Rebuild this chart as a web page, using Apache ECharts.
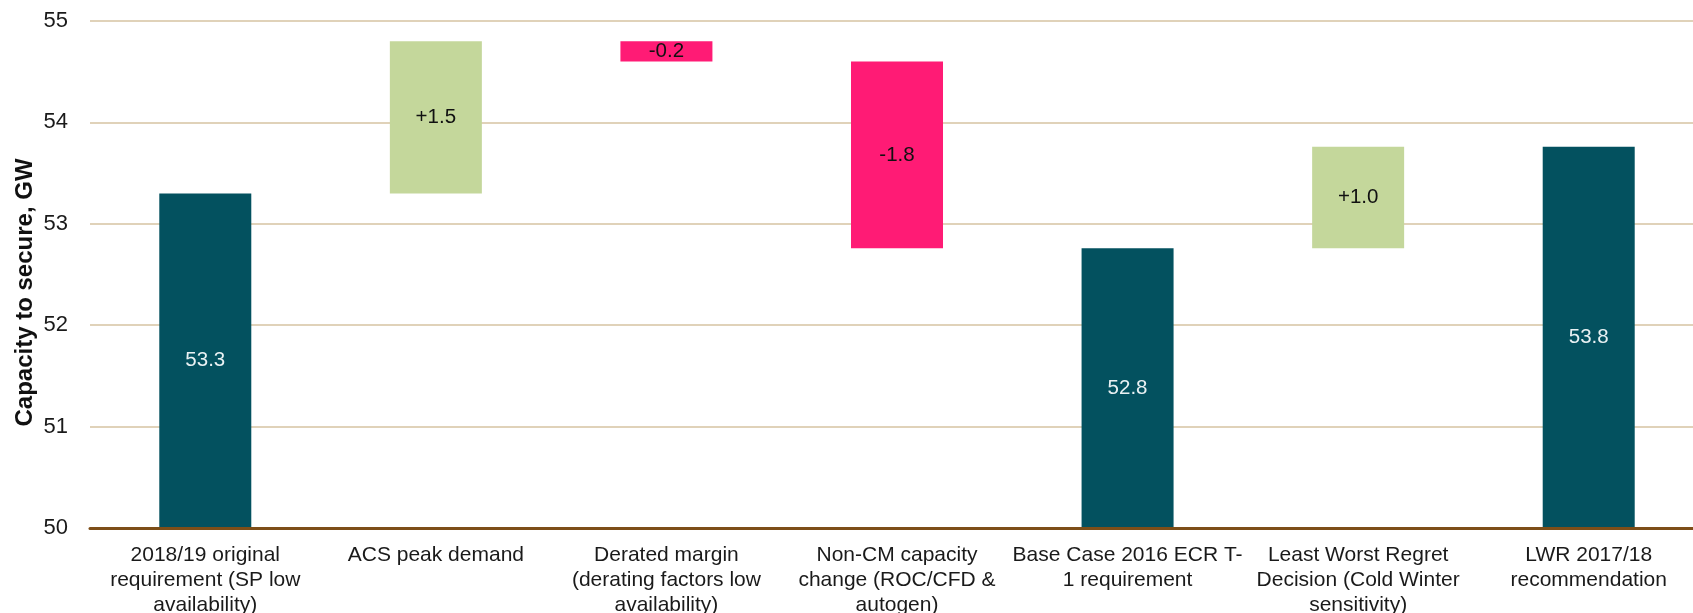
<!DOCTYPE html>
<html>
<head>
<meta charset="utf-8">
<script src="https://cdn.jsdelivr.net/npm/echarts@6/dist/echarts.min.js"></script>
<style>
  html, body { margin: 0; padding: 0; background: #ffffff; }
  #chart { width: 1693px; height: 613px; }
</style>
</head>
<body>
<div id="chart"></div>
<script>
// ---- Data ----
const categories = [
  '2018/19 original\nrequirement (SP low\navailability)',
  'ACS peak demand',
  'Derated margin\n(derating factors low\navailability)',
  'Non-CM capacity\nchange (ROC/CFD &\nautogen)',
  'Base Case 2016 ECR T-\n1 requirement',
  'Least Worst Regret\nDecision (Cold Winter\nsensitivity)',
  'LWR 2017/18\nrecommendation'
];
// 'total' bars start at the axis; 'delta' bars float on the running total
const kinds = ['total', 'delta', 'delta', 'delta', 'total', 'delta', 'total'];
const values = [53.3, 1.5, -0.2, -1.84, 52.76, 1.0, 53.76];
const yTicks = [50, 51, 52, 53, 54, 55];
const axisTitle = 'Capacity to secure, GW';

// ---- Colours ----
const COLOR_TOTAL = '#03515f';
const COLOR_UP = '#c4d79b';
const COLOR_DOWN = '#ff1b75';

// Build waterfall stacks
const baseData = [];
const barData = [];
const labelText = [];
let running = 0;
for (let i = 0; i < values.length; i++) {
  const v = values[i];
  if (kinds[i] === 'total') {
    running = v;
    baseData.push(0);
    barData.push({ value: v, itemStyle: { color: COLOR_TOTAL }, label: { color: '#e9f1f3' } });
    labelText.push(v.toFixed(1));
  } else {
    const start = running;
    const end = running + v;
    baseData.push(Math.min(start, end));
    barData.push({ value: Math.abs(v), itemStyle: { color: v >= 0 ? COLOR_UP : COLOR_DOWN }, label: { color: '#111111' } });
    labelText.push((v >= 0 ? '+' : '-') + Math.abs(v).toFixed(1));
    running = end;
  }
}

const chart = echarts.init(document.getElementById('chart'), null, { renderer: 'canvas' });
chart.setOption({
  animation: false,
  backgroundColor: '#ffffff',
  textStyle: { fontFamily: 'Liberation Sans, Arial, sans-serif' },
  grid: { left: 90, right: -11, top: 21, bottom: 85, containLabel: false, outerBoundsMode: 'none' },
  xAxis: {
    type: 'category',
    data: categories,
    axisLine: { show: true, lineStyle: { color: '#7d4e18', width: 3 } },
    axisTick: { show: false },
    axisLabel: {
      interval: 0,
      margin: 15,
      fontSize: 21,
      lineHeight: 25,
      color: '#1a1a1a',
      align: 'center'
    },
    z: 10
  },
  yAxis: {
    type: 'value',
    min: yTicks[0],
    max: yTicks[yTicks.length - 1],
    interval: 1,
    name: axisTitle,
    nameLocation: 'middle',
    nameRotate: 90,
    nameGap: 53,
    nameMoveOverlap: false,
    nameTextStyle: { fontSize: 24, fontWeight: 'bold', color: '#111111', padding: [0, 36, 0, 0] },
    axisLine: { show: false },
    axisTick: { show: false },
    axisLabel: { fontSize: 22, color: '#1a1a1a', margin: 22 },
    splitLine: { show: true, lineStyle: { color: '#d6c3a2', width: 1.5 } }
  },
  series: [
    {
      name: 'base',
      type: 'bar',
      stack: 'waterfall',
      barWidth: 92,
      silent: true,
      itemStyle: { color: 'transparent' },
      data: baseData
    },
    {
      name: 'value',
      type: 'bar',
      stack: 'waterfall',
      barWidth: 92,
      data: barData,
      label: {
        show: true,
        position: 'inside',
        fontSize: 20.5,
        formatter: function (p) { return labelText[p.dataIndex]; }
      }
    }
  ]
});
</script>
</body>
</html>
